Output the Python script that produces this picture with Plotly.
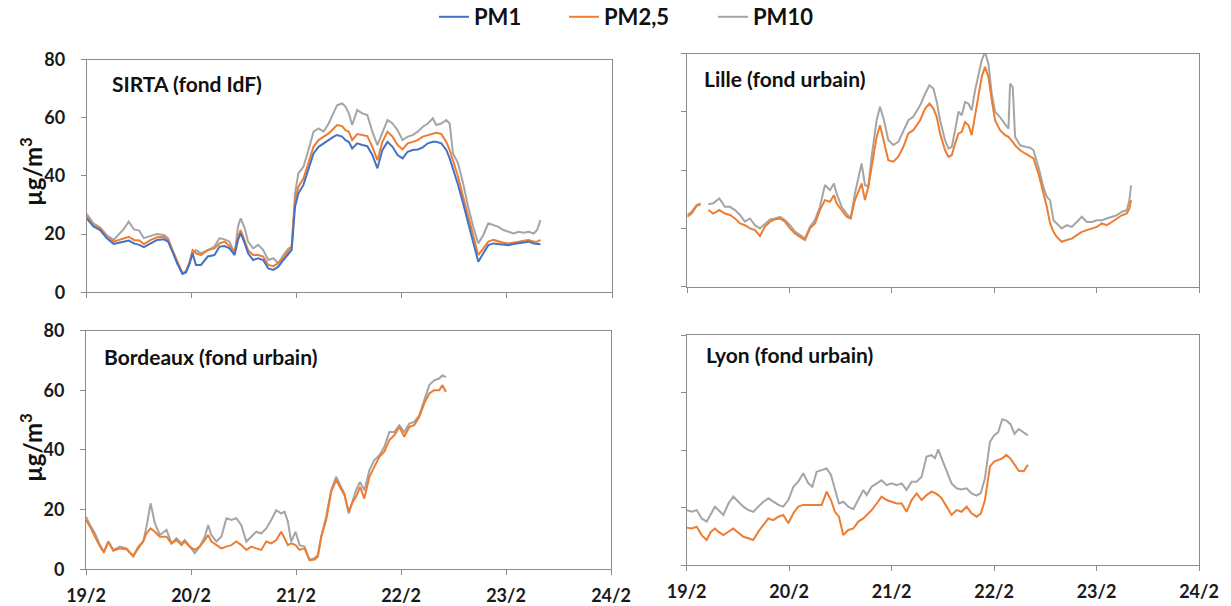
import plotly.graph_objects as go

# ---------------- data (time in days since 19/2 00:00) ----------------
tick_vals = [0, 1, 2, 3, 4, 5]
tick_text = ["19/2", "20/2", "21/2", "22/2", "23/2", "24/2"]
y_ticks = [0, 20, 40, 60, 80]

sirta_t = [0, 0.064, 0.128, 0.19, 0.256, 0.30, 0.35, 0.40, 0.45, 0.50,
           0.544, 0.61, 0.67, 0.736, 0.774, 0.816, 0.864, 0.912, 0.944, 0.976,
           1.008, 1.04, 1.088, 1.152, 1.216, 1.264, 1.312, 1.36, 1.408, 1.44,
           1.466, 1.504, 1.536, 1.584, 1.632, 1.68, 1.728, 1.776, 1.824, 1.872,
           1.92, 1.951, 1.983, 2.015, 2.063, 2.111, 2.159, 2.207, 2.255, 2.303,
           2.351, 2.383, 2.431, 2.463, 2.495, 2.527, 2.575, 2.623, 2.671, 2.719,
           2.767, 2.815, 2.863, 2.911, 2.959, 3.007, 3.055, 3.103, 3.151, 3.199,
           3.247, 3.295, 3.327, 3.375, 3.423, 3.455, 3.487, 3.535, 3.583, 3.631,
           3.679, 3.727, 3.775, 3.823, 3.871, 3.919, 3.967, 4.015, 4.063, 4.111,
           4.159, 4.207, 4.255, 4.287, 4.319]
sirta_pm1 = [25.4, 22.6, 21.4, 18.6, 16.6, 17.1, 17.4, 17.8, 16.8, 16.3,
             15.5, 16.8, 18, 18.2, 17.4, 14, 9.7, 6.3, 6.8, 9.4,
             13.4, 9.4, 9.4, 12.3, 12.8, 15.7, 15.9, 15.1, 12.8, 18,
             20.3, 16.8, 13.4, 11.1, 11.7, 11.1, 8.2, 7.7, 8.8, 11.1,
             13.4, 14.5, 29.4, 34, 36.9, 42, 47.7, 50, 51.2, 52.3,
             53.5, 54, 53.5, 52.3, 51.7, 49.4, 51.2, 50.6, 50.2, 47.2,
             42.6, 48.9, 51.7, 50, 47.2, 46, 48.3, 48.9, 49.1, 49.8,
             51.2, 51.7, 51.7, 51.2, 48.9, 46, 42.6, 36.9, 30.5, 23.7,
             16.8, 10.5, 13.4, 16.2, 16.8, 16.6, 16.2, 16.2, 16.6, 16.8,
             17, 17.4, 16.8, 16.6, 16.5]
sirta_pm25 = [26, 23, 22, 19, 17.4, 18, 18.6, 19.1, 18, 17.8,
              16.6, 18, 18.9, 19.1, 18, 14.5, 10, 6.5, 7.1, 10,
              14.5, 13.4, 12.8, 14.5, 15.1, 16.8, 17.4, 15.9, 14, 19.1,
              21.4, 18, 14.5, 12.8, 12.8, 12.3, 9.4, 9, 10, 11.7,
              14, 15.7, 31.7, 36.3, 39.1, 44.3, 50, 52.3, 53.5, 54.6,
              56.3, 57.5, 57.1, 55.7, 55.2, 52.3, 54.4, 54, 53.7, 50,
              45.4, 51.7, 55.2, 53.5, 50.6, 49.1, 51.2, 51.7, 52.3, 53.5,
              54, 54.6, 54.8, 54.4, 51.7, 48.9, 45.4, 39.7, 32.8, 26,
              19.1, 12.8, 15.1, 17.4, 18, 17.4, 17, 16.8, 17, 17.4,
              17.7, 18, 17.4, 17.4, 18]
sirta_pm10 = [27, 23.7, 22.3, 19.7, 18, 19.7, 21.6, 24.3, 21.6, 21.2,
              18.6, 19.4, 20, 19.7, 18.6, 14.5, 10, 6.5, 7.1, 10,
              13.4, 14.5, 13.4, 14.5, 15.7, 18.6, 18.2, 17.4, 13.4, 22.6,
              25.4, 22, 17.4, 15.1, 16.3, 14.5, 11.1, 11.7, 10, 12.8,
              15.1, 15.5, 34, 40.9, 43.1, 48.9, 55.2, 56.3, 55.2, 58,
              61.5, 64.3, 64.9, 63.8, 61.5, 57.5, 62.6, 61.5, 60.9, 55.2,
              50.6, 55.2, 59.2, 58, 55.7, 52.3, 53.5, 54, 55.2, 56.9,
              58, 59.8, 57.5, 58, 59.2, 58, 47.7, 44.3, 37.4, 29.4,
              22.5, 16.8, 19.7, 23.7, 23.1, 22.5, 21.4, 20.8, 20.2, 20.8,
              20.5, 20.8, 20.2, 21.4, 24.8]

lille_t = [0, 0.042, 0.091, 0.13, 0.17, 0.205, 0.254, 0.313, 0.368, 0.417,
           0.466, 0.515, 0.563, 0.612, 0.661, 0.71, 0.759, 0.808, 0.857, 0.906,
           0.954, 1.003, 1.052, 1.101, 1.15, 1.199, 1.248, 1.296, 1.345, 1.394,
           1.433, 1.459, 1.508, 1.557, 1.596, 1.638, 1.703, 1.736, 1.769, 1.801,
           1.85, 1.883, 1.922, 1.964, 2.013, 2.062, 2.111, 2.16, 2.208,
           2.275, 2.324, 2.366, 2.405, 2.438, 2.47, 2.519, 2.552, 2.584, 2.617,
           2.649, 2.682, 2.714, 2.747, 2.779, 2.812, 2.844, 2.877, 2.909, 2.942,
           2.975, 3.007, 3.056, 3.105, 3.138, 3.154, 3.18, 3.203, 3.252, 3.301,
           3.35, 3.383, 3.431, 3.48, 3.513, 3.545, 3.578, 3.61, 3.659, 3.708,
           3.757, 3.806, 3.855, 3.904, 3.953, 4.002, 4.05, 4.099, 4.148, 4.197,
           4.246, 4.294, 4.32, 4.336]
lille_pm25 = [24, 25.1, 27.7, 28.3, None, 26.3, 25.1, 26.3, 25.1, 24.6,
              23.4, 21.7, 21.1, 20, 19.4, 17.4, 20.6, 22.3, 23.1, 23.4,
              22.3, 20, 18.3, 17.1, 16, 20, 21.7, 26.3, 29.7, 29.1,
              31.4, 28.6, 26.3, 24, 23.4, 29.7, 35.4, 29.7, 34.3, 41.1,
              51.4, 55.4, 49.1, 43.4, 42.9, 44.6, 48, 52.6, 53.7,
              57.1, 61.1, 62.8, 61.1, 58.2, 52.5, 46.8, 44.5, 45.1, 49.1,
              52.5, 53.1, 56.5, 55.4, 52, 58.8, 65.1, 72, 75.4, 72,
              64, 57.1, 53.7, 52, 51.4, 50.8, 49.7, 48.5, 46.8, 45.7,
              44.5, 44, 38.8, 32, 27.4, 21.7, 18.8, 17.1, 15.4, 16,
              16.5, 17.7, 18.8, 19.4, 20, 20.5, 21.7, 21.1, 22.2, 23.4,
              24.5, 25.1, 26.8, 29.7]
lille_pm10 = [24.6, 25.7, 28, 28.6, None, 28.3, 28.6, 30.3, 27.4, 27.4,
              26.3, 24.6, 22.3, 23.4, 21.1, 20, 21.7, 23.1, 23.4, 24,
              22.9, 21.1, 18.9, 17.7, 16.6, 20.6, 22.9, 27.4, 34.9, 33.1,
              35.4, 32, 27.4, 25.1, 23.4, 32, 42.3, 34.9, 34.3, 44.6,
              57.1, 61.7, 57.1, 50.3, 48.6, 49.7, 53.7, 57.1, 58.3,
              62.2, 66.2, 69.1, 68, 63.4, 57.1, 50.2, 47.4, 48, 53.7,
              60, 58.8, 63.4, 62.8, 60.5, 67.4, 72, 77.7, 80.5, 76.5,
              66.2, 60, 58.2, 56, 54.2, 69.7, 68.5, 51.4, 48.5, 48,
              47.7, 46.8, 41.1, 34.2, 30.8, 29.7, 22.8, 21.7, 20, 21.1,
              20.5, 22.2, 24, 22.2, 22.2, 22.8, 22.8, 23.4, 24, 24.5,
              25.7, 26.2, 29.7, 34.8]

bordeaux_t = [0, 0.038, 0.086, 0.133, 0.171, 0.212, 0.26, 0.323, 0.386, 0.45,
              0.497, 0.545, 0.576, 0.615, 0.656, 0.703, 0.767, 0.814, 0.862, 0.909,
              0.941, 0.988, 1.036, 1.083, 1.131, 1.163, 1.194, 1.242, 1.289, 1.337,
              1.384, 1.432, 1.479, 1.527, 1.574, 1.622, 1.669, 1.717, 1.764, 1.812,
              1.859, 1.891, 1.923, 1.954, 1.996, 2.034, 2.081, 2.129, 2.176, 2.208,
              2.24, 2.287, 2.335, 2.382, 2.43, 2.461, 2.502, 2.54, 2.572, 2.61,
              2.651, 2.699, 2.746, 2.794, 2.841, 2.889, 2.936, 2.984, 3.031, 3.079,
              3.126, 3.174, 3.221, 3.269, 3.316, 3.364, 3.395, 3.427]
bordeaux_pm25 = [16.5, 14.3, 10.9, 7.6, 5.6, 9.3, 6.2, 7, 6.7, 4.5,
                 7, 9.3, 12, 13.7, 12.6, 10.9, 10.9, 8.7, 9.8, 8.1,
                 9.3, 7.6, 6.5, 7.6, 9.8, 11.5, 9.3, 8.1, 7, 7.6,
                 8.1, 9.3, 8.1, 6.5, 7.6, 7, 6.5, 9.3, 8.7, 9.8,
                 12.6, 10.4, 8.1, 8.7, 8.1, 6.5, 7, 3.1, 3.3, 4.2,
                 10.9, 16.5, 26, 29.9, 27.1, 24.9, 19.3, 22.6, 24.3, 27.6,
                 23.7, 31, 34.3, 37.7, 39.4, 43.3, 44.9, 47.7, 44.4, 47.7,
                 48.3, 51.1, 55.5, 58.9, 60, 60, 61.7, 59.4]
bordeaux_pm10 = [17.6, 14.8, 12, 8.1, 5.9, 9.3, 6.5, 7.6, 7, 4.2,
                 7.6, 9.3, 14.3, 22.1, 15.4, 11.5, 13.2, 8.7, 10.4, 8.7,
                 9.8, 7.6, 5.4, 7.6, 10.9, 14.8, 11.5, 9.3, 10.9, 17.1,
                 16.5, 17.1, 14.8, 9.3, 10.9, 12.6, 12, 13.7, 16.5, 19.8,
                 18.7, 19.3, 15.9, 9.3, 12.6, 8.1, 7.6, 3.1, 3.7, 4.8,
                 10.9, 17.6, 26.5, 31, 27.6, 25.4, 18.7, 23.2, 26.5, 29.3,
                 26.5, 33.2, 36.6, 38.2, 41, 46, 46, 48.3, 46, 48.8,
                 49.4, 51.6, 56.6, 61.7, 63.3, 63.9, 65, 64.4]

lyon_t = [0, 0.049, 0.098, 0.146, 0.195, 0.237, 0.276, 0.309, 0.358, 0.407,
          0.455, 0.504, 0.553, 0.602, 0.65, 0.699, 0.748, 0.797, 0.846, 0.894,
          0.943, 0.992, 1.041, 1.089, 1.138, 1.187, 1.226, 1.268, 1.317, 1.366,
          1.408, 1.447, 1.486, 1.528, 1.577, 1.626, 1.675, 1.724, 1.756, 1.805,
          1.854, 1.902, 1.951, 2.0, 2.049, 2.098, 2.146, 2.195, 2.244, 2.293,
          2.341, 2.39, 2.423, 2.455, 2.488, 2.537, 2.585, 2.634, 2.683, 2.732,
          2.78, 2.83, 2.87, 2.91, 2.96, 3.0, 3.04, 3.08, 3.12, 3.16,
          3.2, 3.24, 3.29, 3.33]
lyon_pm25 = [13, 12.7, 13.3, 10.4, 8.7, 11.6, 12.7, 11.6, 10.4, 11.6,
             12.7, 11.2, 9.8, 9.3, 8.7, 11.6, 13.9, 16.2, 15.6, 16.8,
             17.4, 14.5, 18, 20.3, 20.9, 20.9, 20.9, 20.9, 20.9, 25.5,
             22.6, 18.5, 16.8, 10.4, 12.2, 12.7, 15.1, 16.2, 17.4, 19.1,
             21.4, 23.8, 22.6, 22, 21.4, 21.4, 18.5, 22.6, 24.9, 22.6,
             24.3, 25.5, 25.1, 24.3, 23.2, 20.3, 17.4, 19.1, 18.5, 20.3,
             18, 16.8, 17.9, 22.4, 34.3, 36, 36.5, 37.1, 38.3, 37,
             34.9, 32.8, 32.6, 34.9]
lyon_pm10 = [19.1, 18.5, 19.1, 16.2, 15.1, 18, 20.3, 19.1, 17.4, 21.4,
             23.8, 22, 20.3, 19.1, 18.5, 20.3, 22, 23.2, 22, 20.9,
             20.3, 22.6, 27.2, 29, 31.9, 28.4, 27.2, 32.4, 33, 33.6,
             31.3, 26.1, 21.4, 22, 20.3, 19.4, 22.6, 26.1, 24.3, 27.2,
             28.4, 29.5, 27.8, 28.4, 27.8, 28.4, 26.1, 29, 29, 30.7,
             37.7, 38.2, 37.1, 40.2, 37.1, 32.4, 28.4, 26.7, 26.3, 26.7,
             24.9, 24.1, 25, 30, 42.8, 45.1, 46.2, 50.7, 50.2, 49,
             45.6, 47.3, 46.2, 45.1]

# ---------------- style ----------------
W, H = 1231, 606
FONT = "Lato"
C_PM1, C_PM25, C_PM10 = "#4472C4", "#ED7D31", "#A5A5A5"
AXC = "#8C8C8C"

fig = go.Figure()


def add(x, y, name, color, ax, legend=None):
    fig.add_trace(go.Scatter(
        x=x, y=y, name=name, mode="lines",
        line=dict(color=color, width=2),
        xaxis="x" + ax, yaxis="y" + ax,
        showlegend=legend is not None, legend=legend or "legend",
        connectgaps=False, hoverinfo="skip"))


add(sirta_t, sirta_pm10, "PM10", C_PM10, "", "legend3")
add(sirta_t, sirta_pm25, "PM2,5", C_PM25, "", "legend2")
add(sirta_t, sirta_pm1, "PM1", C_PM1, "", "legend")
add(lille_t, lille_pm10, "PM10", C_PM10, "2")
add(lille_t, lille_pm25, "PM2,5", C_PM25, "2")
add(bordeaux_t, bordeaux_pm10, "PM10", C_PM10, "3")
add(bordeaux_t, bordeaux_pm25, "PM2,5", C_PM25, "3")
add(lyon_t, lyon_pm10, "PM10", C_PM10, "4")
add(lyon_t, lyon_pm25, "PM2,5", C_PM25, "4")

# panel boxes in pixels: (left, right, top, bottom)
panels = {
    "": (86.7, 612, 59.5, 292.3),
    "2": (687.3, 1199, 53.5, 286.7),
    "3": (86, 611, 330.5, 569.3),
    "4": (686.7, 1199, 335, 565),
}
tickfont = dict(family=FONT, size=18, color="#1A1A1A", weight="bold")
layout = {}
for k, (l, r, t, b) in panels.items():
    bottom_row = k in ("3", "4")
    left_col = k in ("", "3")
    layout["xaxis" + k] = dict(
        domain=[l / W, r / W], range=[0, 5], anchor="y" + k,
        tickvals=tick_vals, ticktext=tick_text, showticklabels=bottom_row,
        ticks="outside", ticklen=5, tickwidth=1, tickcolor=AXC,
        showline=True, linecolor=AXC, linewidth=1, mirror=True,
        showgrid=False, zeroline=False, tickfont=tickfont,
        ticklabelstandoff=5, automargin=False)
    layout["yaxis" + k] = dict(
        domain=[1 - b / H, 1 - t / H], range=[0, 80], anchor="x" + k,
        tickvals=y_ticks, showticklabels=left_col,
        ticks="outside", ticklen=5, tickwidth=1, tickcolor=AXC,
        showline=True, linecolor=AXC, linewidth=1, mirror=True,
        showgrid=False, zeroline=False, tickfont=tickfont,
        ticklabelstandoff=12, automargin=False)

titles = [
    ("SIRTA (fond IdF)", 110, 83),
    ("Lille (fond urbain)", 702, 78),
    ("Bordeaux (fond urbain)", 102, 356),
    ("Lyon (fond urbain)", 704, 354),
]
annotations = []
for txt, px, py in titles:
    annotations.append(dict(
        text=txt, x=px / W, y=1 - py / H, xref="paper", yref="paper",
        xanchor="left", yanchor="middle", showarrow=False,
        font=dict(family=FONT, size=21, color="#111111", weight="bold")))
for py in (172, 448):
    annotations.append(dict(
        text="µg/m<sup>3</sup>", x=31 / W, y=1 - py / H,
        xref="paper", yref="paper", xanchor="center", yanchor="middle",
        textangle=-90, showarrow=False,
        font=dict(family=FONT, size=24, color="#111111", weight="bold")))

leg_font = dict(family=FONT, size=22, color="#111111", weight="bold")
legend_common = dict(orientation="h", yanchor="middle", xanchor="left",
                     y=1 - 17 / H, bgcolor="rgba(0,0,0,0)", borderwidth=0,
                     font=leg_font, itemwidth=30)

fig.update_layout(
    width=W, height=H, autosize=False,
    margin=dict(l=0, r=0, t=0, b=0, autoexpand=False),
    paper_bgcolor="white", plot_bgcolor="white",
    font=dict(family=FONT),
    annotations=annotations,
    legend=dict(x=434 / W, **legend_common),
    legend2=dict(x=564 / W, **legend_common),
    legend3=dict(x=713 / W, **legend_common),
    **layout)

fig.write_html("out.html",
               config={"displayModeBar": False},
               post_script="document.body.style.margin='0';"
                           "document.body.style.padding='0';")
